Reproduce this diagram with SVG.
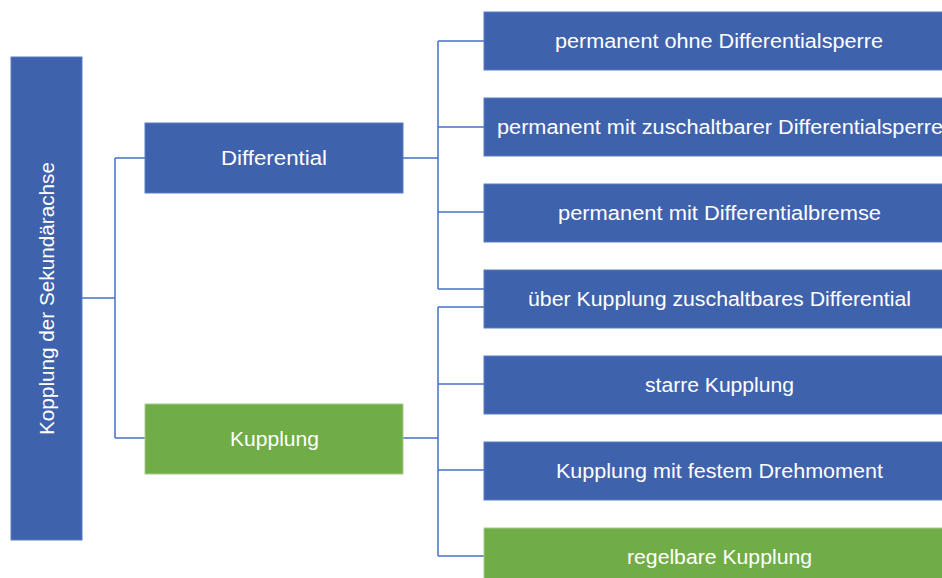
<svg xmlns="http://www.w3.org/2000/svg" width="942" height="578" viewBox="0 0 942 578">
<style>
.b{fill:#3F62AD;stroke:#5A7CC2;stroke-width:1}
.g{fill:#70AD47;stroke:#A9C98F;stroke-width:1}
.t{fill:#FFFFFF;font-family:"Liberation Sans",Arial,sans-serif;font-size:20px;text-anchor:middle;dominant-baseline:central}
.c{fill:none;stroke:#4472C4;stroke-width:1.5}
</style>
<rect width="942" height="578" fill="#FFFFFF"/>
<g id="connectors">
<path class="c" d="M82,298H115M115,158V438M115,158H145M115,438H145"/>
<path class="c" d="M403,158H438M438,41V289M438,41H484M438,127H484M438,212H484M438,289H484"/>
<path class="c" d="M403,438H438M438,307V556M438,307H484M438,384H484M438,470H484M438,556H484"/>
</g>
<g id="root">
<rect class="b" x="11" y="57" width="71" height="483"/>
<text class="t" transform="translate(47,298.5) rotate(-90)" x="0" y="0" textLength="273" lengthAdjust="spacingAndGlyphs">Kopplung der Sekundärachse</text>
</g>
<g id="differential">
<rect class="b" x="145" y="123" width="258" height="70"/>
<text class="t" x="274" y="158" textLength="106" lengthAdjust="spacingAndGlyphs">Differential</text>
</g>
<g id="kupplung">
<rect class="g" x="145" y="404" width="258" height="70"/>
<text class="t" x="274.5" y="439" textLength="89" lengthAdjust="spacingAndGlyphs">Kupplung</text>
</g>
<g id="n1">
<rect class="b" x="484" y="12" width="470" height="58"/>
<text class="t" x="719" y="41" textLength="328" lengthAdjust="spacingAndGlyphs">permanent ohne Differentialsperre</text>
</g>
<g id="n2">
<rect class="b" x="484" y="98" width="470" height="58"/>
<text class="t" x="720" y="127" textLength="446" lengthAdjust="spacingAndGlyphs">permanent mit zuschaltbarer Differentialsperre</text>
</g>
<g id="n3">
<rect class="b" x="484" y="184" width="470" height="58"/>
<text class="t" x="719.5" y="213" textLength="323" lengthAdjust="spacingAndGlyphs">permanent mit Differentialbremse</text>
</g>
<g id="n4">
<rect class="b" x="484" y="270" width="470" height="58"/>
<text class="t" x="719.5" y="299" textLength="383" lengthAdjust="spacingAndGlyphs">über Kupplung zuschaltbares Differential</text>
</g>
<g id="n5">
<rect class="b" x="484" y="356" width="470" height="58"/>
<text class="t" x="719.5" y="385" textLength="149" lengthAdjust="spacingAndGlyphs">starre Kupplung</text>
</g>
<g id="n6">
<rect class="b" x="484" y="442" width="470" height="58"/>
<text class="t" x="719.5" y="471" textLength="327" lengthAdjust="spacingAndGlyphs">Kupplung mit festem Drehmoment</text>
</g>
<g id="n7">
<rect class="g" x="484" y="528" width="470" height="58"/>
<text class="t" x="719.5" y="557" textLength="185" lengthAdjust="spacingAndGlyphs">regelbare Kupplung</text>
</g>
</svg>
